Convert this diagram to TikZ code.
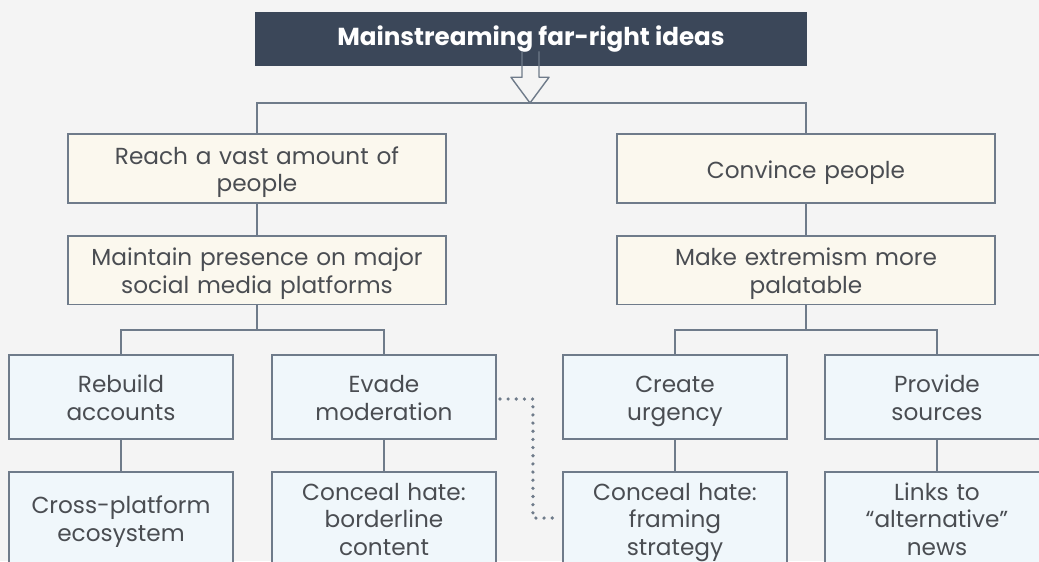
\documentclass[tikz,border=0pt]{standalone}
\usepackage{fontspec}
\setmainfont{Poppins}
\usepackage{tikz}
\usetikzlibrary{calc,positioning}

\definecolor{bggray}{HTML}{F4F4F4}
\definecolor{titleblue}{HTML}{3B4759}
\definecolor{edgegray}{HTML}{6F7B8A}
\definecolor{textgray}{HTML}{4A4D52}
\definecolor{creamfill}{HTML}{FBF8EE}
\definecolor{icefill}{HTML}{F0F7FB}

\tikzset{
	box/.style={draw=edgegray, line width=1.3pt, rectangle, align=center,
		text=textgray, font=\fontsize{16.5}{19.5}\selectfont, inner sep=0pt,
		execute at begin node={\rule{0pt}{0.95\baselineskip}},
		execute at end node={\rule[-0.25\baselineskip]{0pt}{0pt}}},
	goal/.style={box, fill=creamfill, text width=9.2cm,
		minimum width=9.45cm, minimum height=1.72cm},
	tactic/.style={box, fill=icefill, text width=5.4cm,
		minimum width=5.6cm, minimum height=2.1cm},
	method/.style={tactic, minimum height=2.3cm},
	link/.style={draw=edgegray, line width=1.3pt},
	dotlink/.style={draw=edgegray, line width=2.6pt, line cap=round,
		dash pattern=on 0pt off 5.8pt}
}

\begin{document}
\begin{tikzpicture}[x=0.025cm, y=-0.025cm]
	\useasboundingbox (0,0) rectangle (1039,561);
	\clip (0,0) rectangle (1039,561);
	\fill [bggray] (0,0) rectangle (1039,561);

	% Place nodes
	\node [fill=titleblue, text=white, minimum width=13.8cm, minimum height=1.35cm,
		font=\fontsize{17.5}{19}\selectfont\bfseries, inner sep=0pt] (title) at (531,39) {Mainstreaming far-right ideas};

	\node [goal] (reach) at (257,168.5) {Reach a vast amount of\\people};
	\node [goal] (maintain) at (257,270) {Maintain presence on major\\social media platforms};
	\node [goal] (convince) at (806,168.5) {Convince people};
	\node [goal] (palatable) at (806,270) {Make extremism more\\palatable};

	\node [tactic] (rebuild) at (121,397) {Rebuild\\accounts};
	\node [tactic] (evade) at (384,397) {Evade\\moderation};
	\node [tactic] (urgency) at (675,397) {Create\\urgency};
	\node [tactic] (sources) at (937,397) {Provide\\sources};

	\node [method] (crossplat) at (121,518) {Cross-platform\\ecosystem};
	\node [method] (borderline) at (384,518) {Conceal hate:\\borderline\\content};
	\node [method] (framing) at (675,518) {Conceal hate:\\framing\\strategy};
	\node [method] (altnews) at (937,518) {Links to\\``alternative''\\news};

	\coordinate (topbus) at (530,103);
	\coordinate (leftbus) at (257,330);
	\coordinate (rightbus) at (806,330);

	% Hollow arrow out of the title bar
	\draw [edgegray, line width=1pt, line join=round]
		($(title.south)+(-9,-15)$) -- ++(0,26) -- ++(-11,0) -- (topbus)
		-- ($(title.south)+(18,11)$) -- ++(-10,0) -- ++(0,-26);

	% Draw edges
	\draw [link] (reach.north) |- (topbus) -| (convince.north);
	\draw [link] (reach) -- (maintain);
	\draw [link] (convince) -- (palatable);

	\draw [link] (maintain) -- (leftbus);
	\draw [link] (rebuild.north) |- (leftbus) -| (evade.north);
	\draw [link] (palatable) -- (rightbus);
	\draw [link] (urgency.north) |- (rightbus) -| (sources.north);

	\draw [link] (rebuild) -- (crossplat);
	\draw [link] (evade) -- (borderline);
	\draw [link] (urgency) -- (framing);
	\draw [link] (sources) -- (altnews);

	\draw [dotlink] ($(evade.east)+(3,2)$) -- ++(33,0) |- ($(framing.west)+(-5,0)$);
\end{tikzpicture}
\end{document}
